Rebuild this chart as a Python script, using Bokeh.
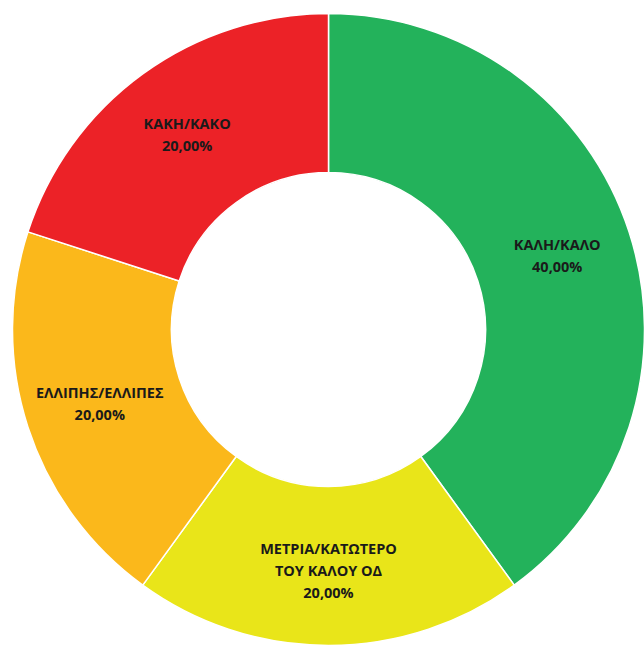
import math
from bokeh.plotting import figure
from bokeh.models import Range1d, ColumnDataSource
from bokeh.core.properties import value
from bokeh.embed import file_html
from bokeh.resources import INLINE

categories = ["ΚΑΛΗ/ΚΑΛΟ", "ΜΕΤΡΙΑ/ΚΑΤΩΤΕΡΟ\nΤΟΥ ΚΑΛΟΥ ΟΔ", "ΕΛΛΙΠΗΣ/ΕΛΛΙΠΕΣ", "ΚΑΚΗ/ΚΑΚΟ"]
shares = [40.0, 20.0, 20.0, 20.0]
pct_labels = ["40,00%", "20,00%", "20,00%", "20,00%"]
colors = ["#23B25B", "#E9E519", "#FBB81B", "#EC2227"]

W, H = 644, 646
cx, cy = 328, -329
r_out, r_in = 316, 157

p = figure(width=W, height=H, output_backend="svg", toolbar_location=None,
           x_range=Range1d(0, W), y_range=Range1d(-H, 0),
           min_border=0, outline_line_color=None)
p.axis.visible = False
p.grid.visible = False
p.background_fill_color = "white"
p.border_fill_color = "white"

total = sum(shares)
starts, ends, mids = [], [], []
cum = 0.0
for s in shares:
    a0 = math.pi / 2 - (cum + s) / total * 2 * math.pi
    a1 = math.pi / 2 - cum / total * 2 * math.pi
    starts.append(a0)
    ends.append(a1)
    mids.append((a0 + a1) / 2)
    cum += s

src = ColumnDataSource(dict(x=[cx] * 4, y=[cy] * 4, start=starts, end=ends, color=colors))
p.annular_wedge(x="x", y="y", inner_radius=r_in, outer_radius=r_out,
                start_angle="start", end_angle="end", fill_color="color",
                line_color="white", line_width=1.5, source=src)

r_mid = (r_in + r_out) / 2 + 4
lx, ly, lt, lo = [], [], [], []
spacing = 22
for cat, pct, m in zip(categories, pct_labels, mids):
    lines = cat.split("\n") + [pct]
    n = len(lines)
    px = cx + r_mid * math.cos(m)
    py = cy + r_mid * math.sin(m)
    for i, t in enumerate(lines):
        lx.append(px)
        ly.append(py)
        lt.append(t)
        lo.append((i - (n - 1) / 2) * spacing)

tsrc = ColumnDataSource(dict(x=lx, y=ly, text=lt, off=lo))
p.text(x="x", y="y", text="text", y_offset="off", source=tsrc,
       text_align="center", text_baseline="middle",
       text_font=value("Open Sans"), text_font_style="bold",
       text_font_size="14.5px", text_color="#1a1a1a")

open("out.html", "w").write(file_html(p, INLINE))
